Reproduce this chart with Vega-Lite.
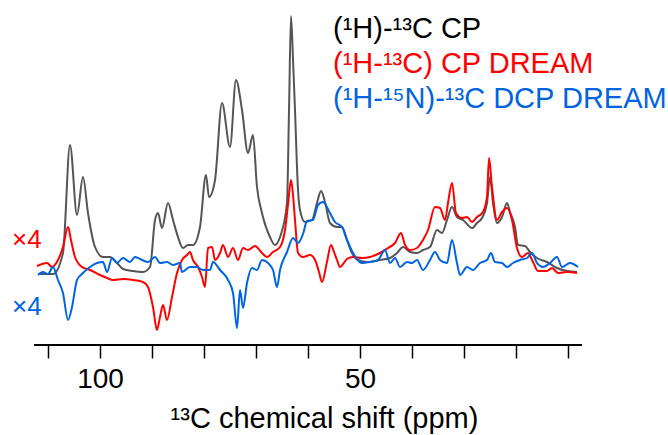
{
  "$schema": "https://vega.github.io/schema/vega-lite/v6.json",
  "width": 668,
  "height": 345,
  "autosize": {"type": "none"},
  "padding": {"left": 0, "top": 0, "right": 0, "bottom": 90},
  "background": "white",
  "config": {"view": {"stroke": null}, "font": "Liberation Sans"},
  "datasets": {
    "spectra": [
      {"series":"CP","ppm":111.92,"intensity":75},{"series":"CP","ppm":109.04,"intensity":75},{"series":"CP","ppm":107.12,"intensity":96},{"series":"CP","ppm":105.77,"intensity":204},{"series":"CP","ppm":104.42,"intensity":134},{"series":"CP","ppm":103.27,"intensity":172},{"series":"CP","ppm":102.31,"intensity":136},{"series":"CP","ppm":100.96,"intensity":102},{"series":"CP","ppm":99.42,"intensity":92},{"series":"CP","ppm":98.08,"intensity":92},{"series":"CP","ppm":96.73,"intensity":86},{"series":"CP","ppm":95.58,"intensity":80},{"series":"CP","ppm":93.65,"intensity":78},{"series":"CP","ppm":91.73,"intensity":77},{"series":"CP","ppm":90.38,"intensity":82},{"series":"CP","ppm":89.42,"intensity":129},{"series":"CP","ppm":88.85,"intensity":136},{"series":"CP","ppm":88.08,"intensity":121},{"series":"CP","ppm":86.92,"intensity":146},{"series":"CP","ppm":85.96,"intensity":129},{"series":"CP","ppm":85.0,"intensity":112},{"series":"CP","ppm":84.04,"intensity":101},{"series":"CP","ppm":83.08,"intensity":104},{"series":"CP","ppm":82.12,"intensity":104},{"series":"CP","ppm":80.77,"intensity":122},{"series":"CP","ppm":79.62,"intensity":174},{"series":"CP","ppm":79.04,"intensity":152},{"series":"CP","ppm":77.88,"intensity":169},{"series":"CP","ppm":76.54,"intensity":246},{"series":"CP","ppm":75.0,"intensity":202},{"series":"CP","ppm":73.85,"intensity":269},{"series":"CP","ppm":72.69,"intensity":239},{"series":"CP","ppm":71.54,"intensity":196},{"series":"CP","ppm":70.58,"intensity":214},{"series":"CP","ppm":69.81,"intensity":162},{"series":"CP","ppm":68.85,"intensity":136},{"series":"CP","ppm":67.31,"intensity":112},{"series":"CP","ppm":66.35,"intensity":104},{"series":"CP","ppm":65.38,"intensity":112},{"series":"CP","ppm":64.04,"intensity":146},{"series":"CP","ppm":63.65,"intensity":239},{"series":"CP","ppm":63.27,"intensity":333},{"series":"CP","ppm":62.88,"intensity":289},{"series":"CP","ppm":62.5,"intensity":239},{"series":"CP","ppm":61.92,"intensity":159},{"series":"CP","ppm":61.54,"intensity":139},{"series":"CP","ppm":60.58,"intensity":127},{"series":"CP","ppm":59.23,"intensity":129},{"series":"CP","ppm":58.27,"intensity":146},{"series":"CP","ppm":57.5,"intensity":158},{"series":"CP","ppm":56.73,"intensity":147},{"series":"CP","ppm":55.77,"intensity":126},{"series":"CP","ppm":54.42,"intensity":122},{"series":"CP","ppm":53.46,"intensity":122},{"series":"CP","ppm":52.5,"intensity":109},{"series":"CP","ppm":51.54,"intensity":96},{"series":"CP","ppm":50.38,"intensity":89},{"series":"CP","ppm":48.65,"intensity":87},{"series":"CP","ppm":46.15,"intensity":89},{"series":"CP","ppm":44.23,"intensity":91},{"series":"CP","ppm":42.88,"intensity":96},{"series":"CP","ppm":41.73,"intensity":102},{"series":"CP","ppm":40.38,"intensity":97},{"series":"CP","ppm":39.04,"intensity":96},{"series":"CP","ppm":37.88,"intensity":99},{"series":"CP","ppm":36.54,"intensity":102},{"series":"CP","ppm":35.19,"intensity":119},{"series":"CP","ppm":34.23,"intensity":116},{"series":"CP","ppm":33.27,"intensity":129},{"series":"CP","ppm":32.31,"intensity":142},{"series":"CP","ppm":31.35,"intensity":132},{"series":"CP","ppm":30.19,"intensity":129},{"series":"CP","ppm":28.46,"intensity":121},{"series":"CP","ppm":27.5,"intensity":126},{"series":"CP","ppm":26.54,"intensity":131},{"series":"CP","ppm":25.58,"intensity":146},{"series":"CP","ppm":25.0,"intensity":172},{"series":"CP","ppm":24.42,"intensity":146},{"series":"CP","ppm":23.65,"intensity":126},{"series":"CP","ppm":22.69,"intensity":132},{"series":"CP","ppm":21.73,"intensity":146},{"series":"CP","ppm":21.15,"intensity":137},{"series":"CP","ppm":20.19,"intensity":122},{"series":"CP","ppm":19.62,"intensity":104},{"series":"CP","ppm":18.27,"intensity":103},{"series":"CP","ppm":17.31,"intensity":97},{"series":"CP","ppm":15.96,"intensity":91},{"series":"CP","ppm":14.04,"intensity":87},{"series":"CP","ppm":12.12,"intensity":81},{"series":"CP","ppm":10.19,"intensity":78},{"series":"CP","ppm":8.27,"intensity":77},

      {"series":"CP DREAM","ppm":112.12,"intensity":83},{"series":"CP DREAM","ppm":110.19,"intensity":86},{"series":"CP DREAM","ppm":109.23,"intensity":82},{"series":"CP DREAM","ppm":108.08,"intensity":89},{"series":"CP DREAM","ppm":107.12,"intensity":102},{"series":"CP DREAM","ppm":106.15,"intensity":122},{"series":"CP DREAM","ppm":105.58,"intensity":109},{"series":"CP DREAM","ppm":104.81,"intensity":92},{"series":"CP DREAM","ppm":103.46,"intensity":82},{"series":"CP DREAM","ppm":101.92,"intensity":79},{"series":"CP DREAM","ppm":100.0,"intensity":74},{"series":"CP DREAM","ppm":98.65,"intensity":71},{"series":"CP DREAM","ppm":97.5,"intensity":69},{"series":"CP DREAM","ppm":95.58,"intensity":70},{"series":"CP DREAM","ppm":93.65,"intensity":69},{"series":"CP DREAM","ppm":91.73,"intensity":67},{"series":"CP DREAM","ppm":90.77,"intensity":62},{"series":"CP DREAM","ppm":89.81,"intensity":42},{"series":"CP DREAM","ppm":89.04,"intensity":19},{"series":"CP DREAM","ppm":88.46,"intensity":32},{"series":"CP DREAM","ppm":87.88,"intensity":44},{"series":"CP DREAM","ppm":87.12,"intensity":29},{"series":"CP DREAM","ppm":86.15,"intensity":52},{"series":"CP DREAM","ppm":85.19,"intensity":76},{"series":"CP DREAM","ppm":84.23,"intensity":89},{"series":"CP DREAM","ppm":83.27,"intensity":94},{"series":"CP DREAM","ppm":82.69,"intensity":97},{"series":"CP DREAM","ppm":82.12,"intensity":89},{"series":"CP DREAM","ppm":81.15,"intensity":82},{"series":"CP DREAM","ppm":80.38,"intensity":72},{"series":"CP DREAM","ppm":79.81,"intensity":62},{"series":"CP DREAM","ppm":79.23,"intensity":101},{"series":"CP DREAM","ppm":78.46,"intensity":102},{"series":"CP DREAM","ppm":77.88,"intensity":89},{"series":"CP DREAM","ppm":76.92,"intensity":96},{"series":"CP DREAM","ppm":76.35,"intensity":104},{"series":"CP DREAM","ppm":75.38,"intensity":92},{"series":"CP DREAM","ppm":74.42,"intensity":101},{"series":"CP DREAM","ppm":73.46,"intensity":89},{"series":"CP DREAM","ppm":72.5,"intensity":101},{"series":"CP DREAM","ppm":71.54,"intensity":99},{"series":"CP DREAM","ppm":70.19,"intensity":103},{"series":"CP DREAM","ppm":68.85,"intensity":96},{"series":"CP DREAM","ppm":67.88,"intensity":92},{"series":"CP DREAM","ppm":66.73,"intensity":97},{"series":"CP DREAM","ppm":65.38,"intensity":102},{"series":"CP DREAM","ppm":64.42,"intensity":119},{"series":"CP DREAM","ppm":63.85,"intensity":144},{"series":"CP DREAM","ppm":63.27,"intensity":169},{"series":"CP DREAM","ppm":62.88,"intensity":154},{"series":"CP DREAM","ppm":62.5,"intensity":129},{"series":"CP DREAM","ppm":61.92,"intensity":96},{"series":"CP DREAM","ppm":60.96,"intensity":92},{"series":"CP DREAM","ppm":59.62,"intensity":94},{"series":"CP DREAM","ppm":58.65,"intensity":89},{"series":"CP DREAM","ppm":57.88,"intensity":77},{"series":"CP DREAM","ppm":57.31,"intensity":67},{"series":"CP DREAM","ppm":56.35,"intensity":87},{"series":"CP DREAM","ppm":55.58,"intensity":104},{"series":"CP DREAM","ppm":55.0,"intensity":97},{"series":"CP DREAM","ppm":54.42,"intensity":89},{"series":"CP DREAM","ppm":53.85,"intensity":82},{"series":"CP DREAM","ppm":52.5,"intensity":90},{"series":"CP DREAM","ppm":51.35,"intensity":92},{"series":"CP DREAM","ppm":49.62,"intensity":91},{"series":"CP DREAM","ppm":48.08,"intensity":92},{"series":"CP DREAM","ppm":46.15,"intensity":96},{"series":"CP DREAM","ppm":44.62,"intensity":101},{"series":"CP DREAM","ppm":43.27,"intensity":106},{"series":"CP DREAM","ppm":42.12,"intensity":116},{"series":"CP DREAM","ppm":41.35,"intensity":104},{"series":"CP DREAM","ppm":40.38,"intensity":99},{"series":"CP DREAM","ppm":39.04,"intensity":101},{"series":"CP DREAM","ppm":37.88,"intensity":109},{"series":"CP DREAM","ppm":36.92,"intensity":119},{"series":"CP DREAM","ppm":35.58,"intensity":142},{"series":"CP DREAM","ppm":34.62,"intensity":141},{"series":"CP DREAM","ppm":33.65,"intensity":129},{"series":"CP DREAM","ppm":33.08,"intensity":146},{"series":"CP DREAM","ppm":32.31,"intensity":166},{"series":"CP DREAM","ppm":31.54,"intensity":136},{"series":"CP DREAM","ppm":30.38,"intensity":131},{"series":"CP DREAM","ppm":29.42,"intensity":132},{"series":"CP DREAM","ppm":28.46,"intensity":127},{"series":"CP DREAM","ppm":27.5,"intensity":132},{"series":"CP DREAM","ppm":26.35,"intensity":137},{"series":"CP DREAM","ppm":25.58,"intensity":152},{"series":"CP DREAM","ppm":25.19,"intensity":191},{"series":"CP DREAM","ppm":24.62,"intensity":162},{"series":"CP DREAM","ppm":23.65,"intensity":129},{"series":"CP DREAM","ppm":22.69,"intensity":137},{"series":"CP DREAM","ppm":21.73,"intensity":141},{"series":"CP DREAM","ppm":20.77,"intensity":129},{"series":"CP DREAM","ppm":19.81,"intensity":101},{"series":"CP DREAM","ppm":18.85,"intensity":92},{"series":"CP DREAM","ppm":17.69,"intensity":96},{"series":"CP DREAM","ppm":16.73,"intensity":87},{"series":"CP DREAM","ppm":15.77,"intensity":78},{"series":"CP DREAM","ppm":14.04,"intensity":78},{"series":"CP DREAM","ppm":13.08,"intensity":81},{"series":"CP DREAM","ppm":11.92,"intensity":76},{"series":"CP DREAM","ppm":10.19,"intensity":77},{"series":"CP DREAM","ppm":8.27,"intensity":76},

      {"series":"DCP DREAM","ppm":111.92,"intensity":74},{"series":"DCP DREAM","ppm":110.96,"intensity":77},{"series":"DCP DREAM","ppm":110.0,"intensity":75},{"series":"DCP DREAM","ppm":109.04,"intensity":82},{"series":"DCP DREAM","ppm":108.08,"intensity":69},{"series":"DCP DREAM","ppm":107.12,"intensity":56},{"series":"DCP DREAM","ppm":106.15,"intensity":29},{"series":"DCP DREAM","ppm":105.38,"intensity":42},{"series":"DCP DREAM","ppm":104.42,"intensity":69},{"series":"DCP DREAM","ppm":103.27,"intensity":76},{"series":"DCP DREAM","ppm":101.92,"intensity":82},{"series":"DCP DREAM","ppm":100.58,"intensity":86},{"series":"DCP DREAM","ppm":99.42,"intensity":87},{"series":"DCP DREAM","ppm":98.65,"intensity":77},{"series":"DCP DREAM","ppm":97.69,"intensity":91},{"series":"DCP DREAM","ppm":96.73,"intensity":86},{"series":"DCP DREAM","ppm":95.58,"intensity":91},{"series":"DCP DREAM","ppm":94.23,"intensity":87},{"series":"DCP DREAM","ppm":93.27,"intensity":92},{"series":"DCP DREAM","ppm":91.92,"intensity":89},{"series":"DCP DREAM","ppm":90.77,"intensity":87},{"series":"DCP DREAM","ppm":89.42,"intensity":92},{"series":"DCP DREAM","ppm":88.46,"intensity":86},{"series":"DCP DREAM","ppm":87.12,"intensity":87},{"series":"DCP DREAM","ppm":85.96,"intensity":84},{"series":"DCP DREAM","ppm":84.62,"intensity":86},{"series":"DCP DREAM","ppm":84.23,"intensity":77},{"series":"DCP DREAM","ppm":82.69,"intensity":82},{"series":"DCP DREAM","ppm":81.35,"intensity":82},{"series":"DCP DREAM","ppm":80.19,"intensity":79},{"series":"DCP DREAM","ppm":78.85,"intensity":79},{"series":"DCP DREAM","ppm":78.27,"intensity":87},{"series":"DCP DREAM","ppm":76.92,"intensity":79},{"series":"DCP DREAM","ppm":75.38,"intensity":69},{"series":"DCP DREAM","ppm":74.42,"intensity":56},{"series":"DCP DREAM","ppm":73.65,"intensity":21},{"series":"DCP DREAM","ppm":73.08,"intensity":59},{"series":"DCP DREAM","ppm":72.5,"intensity":41},{"series":"DCP DREAM","ppm":71.73,"intensity":66},{"series":"DCP DREAM","ppm":70.77,"intensity":81},{"series":"DCP DREAM","ppm":69.81,"intensity":79},{"series":"DCP DREAM","ppm":68.85,"intensity":89},{"series":"DCP DREAM","ppm":67.69,"intensity":86},{"series":"DCP DREAM","ppm":66.73,"intensity":79},{"series":"DCP DREAM","ppm":65.96,"intensity":62},{"series":"DCP DREAM","ppm":65.38,"intensity":79},{"series":"DCP DREAM","ppm":64.04,"intensity":97},{"series":"DCP DREAM","ppm":62.88,"intensity":111},{"series":"DCP DREAM","ppm":61.92,"intensity":106},{"series":"DCP DREAM","ppm":60.96,"intensity":115},{"series":"DCP DREAM","ppm":60.19,"intensity":128},{"series":"DCP DREAM","ppm":59.04,"intensity":129},{"series":"DCP DREAM","ppm":58.08,"intensity":144},{"series":"DCP DREAM","ppm":57.12,"intensity":147},{"series":"DCP DREAM","ppm":55.77,"intensity":136},{"series":"DCP DREAM","ppm":54.81,"intensity":127},{"series":"DCP DREAM","ppm":53.46,"intensity":122},{"series":"DCP DREAM","ppm":52.5,"intensity":109},{"series":"DCP DREAM","ppm":51.35,"intensity":96},{"series":"DCP DREAM","ppm":49.62,"intensity":86},{"series":"DCP DREAM","ppm":48.08,"intensity":87},{"series":"DCP DREAM","ppm":46.54,"intensity":89},{"series":"DCP DREAM","ppm":45.19,"intensity":99},{"series":"DCP DREAM","ppm":44.23,"intensity":86},{"series":"DCP DREAM","ppm":43.27,"intensity":91},{"series":"DCP DREAM","ppm":42.31,"intensity":82},{"series":"DCP DREAM","ppm":40.96,"intensity":87},{"series":"DCP DREAM","ppm":40.0,"intensity":86},{"series":"DCP DREAM","ppm":39.04,"intensity":89},{"series":"DCP DREAM","ppm":37.88,"intensity":79},{"series":"DCP DREAM","ppm":36.54,"intensity":89},{"series":"DCP DREAM","ppm":35.58,"intensity":97},{"series":"DCP DREAM","ppm":34.62,"intensity":89},{"series":"DCP DREAM","ppm":33.27,"intensity":86},{"series":"DCP DREAM","ppm":32.31,"intensity":109},{"series":"DCP DREAM","ppm":31.35,"intensity":86},{"series":"DCP DREAM","ppm":30.77,"intensity":74},{"series":"DCP DREAM","ppm":29.42,"intensity":82},{"series":"DCP DREAM","ppm":28.27,"intensity":79},{"series":"DCP DREAM","ppm":26.92,"intensity":86},{"series":"DCP DREAM","ppm":25.58,"intensity":89},{"series":"DCP DREAM","ppm":24.81,"intensity":96},{"series":"DCP DREAM","ppm":24.04,"intensity":87},{"series":"DCP DREAM","ppm":22.69,"intensity":86},{"series":"DCP DREAM","ppm":21.73,"intensity":82},{"series":"DCP DREAM","ppm":20.58,"intensity":86},{"series":"DCP DREAM","ppm":19.23,"intensity":89},{"series":"DCP DREAM","ppm":17.88,"intensity":91},{"series":"DCP DREAM","ppm":16.92,"intensity":96},{"series":"DCP DREAM","ppm":15.96,"intensity":86},{"series":"DCP DREAM","ppm":14.81,"intensity":82},{"series":"DCP DREAM","ppm":13.46,"intensity":86},{"series":"DCP DREAM","ppm":12.12,"intensity":92},{"series":"DCP DREAM","ppm":11.15,"intensity":82},{"series":"DCP DREAM","ppm":9.62,"intensity":86},{"series":"DCP DREAM","ppm":8.08,"intensity":82}
    ],
    "axisLine": [
      {"ppm": 112.7, "ppmEnd": 7.3, "intensity": 4}
    ],
    "legendText": [
      {"series":"CP","label":"(¹H)-¹³C CP","ppm":55.19,"intensity":311},
      {"series":"CP DREAM","label":"(¹H-¹³C) CP DREAM","ppm":55.19,"intensity":276},
      {"series":"DCP DREAM","label":"(¹H-¹⁵N)-¹³C DCP DREAM","ppm":55.19,"intensity":241}
    ],
    "factors": [
      {"series":"CP DREAM","label":"×4","ppm":116.92,"intensity":101},
      {"series":"DCP DREAM","label":"×4","ppm":116.92,"intensity":34}
    ]
  },
  "encoding": {
    "x": {
      "field": "ppm",
      "type": "quantitative",
      "scale": {"domain": [-9.23, 119.23], "reverse": true, "nice": false, "zero": false},
      "axis": {
        "title": "¹³C chemical shift (ppm)",
        "values": [110, 100, 90, 80, 70, 60, 50, 40, 30, 20, 10],
        "labelExpr": "datum.value === 100 || datum.value === 50 ? datum.label : ''",
        "domain": false,
        "grid": false,
        "ticks": true,
        "tickSize": 13,
        "tickWidth": 1.5,
        "tickColor": "black",
        "labelFont": "Liberation Sans",
        "labelFontSize": 28,
        "labelColor": "black",
        "labelPadding": 7,
        "labelFlush": false,
        "labelOverlap": false,
        "titleFont": "Liberation Sans",
        "titleFontSize": 29,
        "titleFontWeight": "normal",
        "titleColor": "black",
        "titlePadding": 11,
        "titleX": 324,
        "titleAlign": "center"
      }
    },
    "y": {
      "field": "intensity",
      "type": "quantitative",
      "scale": {"domain": [4, 349], "nice": false, "zero": false},
      "axis": null
    }
  },
  "layer": [
    {
      "data": {"name": "spectra"},
      "transform": [{"filter": "datum.series === 'CP'"}],
      "mark": {"type": "line", "color": "#555555", "strokeWidth": 2, "strokeJoin": "round", "interpolate": "monotone"}
    },
    {
      "data": {"name": "spectra"},
      "transform": [{"filter": "datum.series === 'CP DREAM'"}],
      "mark": {"type": "line", "color": "#ff0000", "strokeWidth": 2, "strokeJoin": "round", "interpolate": "monotone"}
    },
    {
      "data": {"name": "spectra"},
      "transform": [{"filter": "datum.series === 'DCP DREAM'"}],
      "mark": {"type": "line", "color": "#0064e1", "strokeWidth": 2, "strokeJoin": "round", "interpolate": "monotone"}
    },
    {
      "data": {"name": "axisLine"},
      "mark": {"type": "rule", "color": "black", "strokeWidth": 2},
      "encoding": {
        "x2": {"field": "ppmEnd"}
      }
    },
    {
      "data": {"name": "legendText"},
      "mark": {"type": "text", "align": "left", "baseline": "alphabetic", "fontSize": 29, "font": "Liberation Sans"},
      "encoding": {
        "text": {"field": "label"},
        "color": {"field": "series", "type": "nominal", "scale": {"domain": ["CP", "CP DREAM", "DCP DREAM"], "range": ["#000000", "#ff0000", "#0064e1"]}, "legend": null}
      }
    },
    {
      "data": {"name": "factors"},
      "mark": {"type": "text", "align": "left", "baseline": "alphabetic", "fontSize": 26, "font": "Liberation Sans"},
      "encoding": {
        "text": {"field": "label"},
        "color": {"field": "series", "type": "nominal", "scale": {"domain": ["CP", "CP DREAM", "DCP DREAM"], "range": ["#000000", "#ff0000", "#0064e1"]}, "legend": null}
      }
    }
  ]
}
